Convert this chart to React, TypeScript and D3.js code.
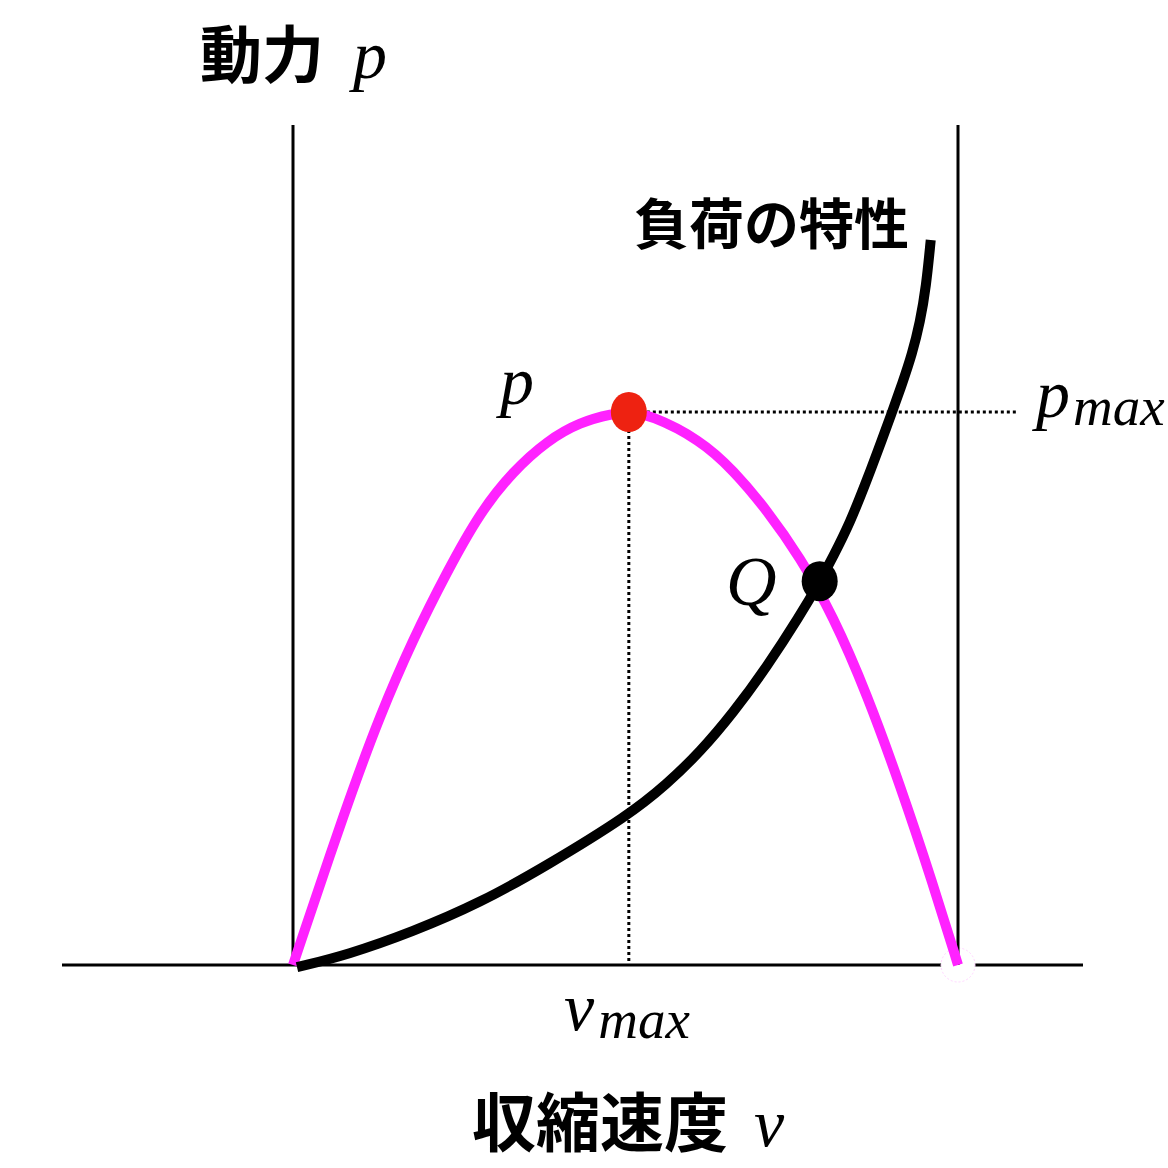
import React from 'react';
import * as d3 from 'd3';

// power curve p(v), normalised: v in [0,1] (1 = right bound), p in [0,1] (1 = p_max)
const powerV = [0, 0.081, 0.131, 0.18, 0.232, 0.281, 0.331, 0.382, 0.432, 0.481, 0.505, 0.537, 0.612, 0.662, 0.713, 0.762, 0.812, 0.863, 0.913, 0.962, 1.0];
const powerP = [0, 0.29, 0.452, 0.588, 0.712, 0.818, 0.893, 0.948, 0.982, 0.997, 1.0, 0.995, 0.95, 0.895, 0.822, 0.738, 0.632, 0.49, 0.325, 0.148, 0];

// load characteristic
const loadV = [0.006, 0.081, 0.18, 0.281, 0.382, 0.505, 0.562, 0.612, 0.662, 0.713, 0.762, 0.792, 0.812, 0.838, 0.86, 0.88, 0.901, 0.916, 0.931, 0.943, 0.952, 0.959];
const loadP = [-0.004, 0.018, 0.06, 0.112, 0.18, 0.271, 0.327, 0.385, 0.456, 0.54, 0.631, 0.693, 0.738, 0.801, 0.868, 0.931, 1.0, 1.051, 1.105, 1.163, 1.226, 1.311];

const vPeak = 0.505;
const qPoint = { v: 0.792, p: 0.694 };

const W = 1168;
const H = 1168;

const mathFont = '"Liberation Serif", "DejaVu Serif", serif';
const jpFont = '"Noto Sans CJK JP", "Noto Sans", sans-serif';

const App: React.FC = () => {
    const x = d3.scaleLinear().domain([0, 1]).range([293, 958]);
    const y = d3.scaleLinear().domain([0, 1]).range([965, 412]);

    const powerData = powerV.map((v, i) => [v, powerP[i]] as [number, number]);
    const loadData = loadV.map((v, i) => [v, loadP[i]] as [number, number]);

    const line = d3.line<[number, number]>()
        .x(d => x(d[0]))
        .y(d => y(d[1]))
        .curve(d3.curveBasis);

    return (
        <svg width={W} height={H} style={{ position: 'absolute', left: 0, top: 0, background: '#fff' }}>
            {/* horizontal axis, with the hollow end marker over it */}
            <line x1={62} x2={1083} y1={y(0)} y2={y(0)} stroke="#000" strokeWidth={3} />
            <circle cx={x(1)} cy={y(0)} r={17} fill="#fff" stroke="#ffd6ff" strokeWidth={1} strokeDasharray="2,2" />

            {/* vertical bounds */}
            <line x1={x(0)} x2={x(0)} y1={125} y2={y(0)} stroke="#000" strokeWidth={3} />
            <line x1={x(1)} x2={x(1)} y1={125} y2={y(0)} stroke="#000" strokeWidth={3} />

            {/* dotted guides */}
            <line x1={x(vPeak)} x2={1017} y1={y(1)} y2={y(1)} stroke="#000" strokeWidth={3} strokeDasharray="3,3" />
            <line x1={x(vPeak)} x2={x(vPeak)} y1={y(1)} y2={y(0) - 3} stroke="#000" strokeWidth={3} strokeDasharray="3,3" />

            {/* curves */}
            <path d={line(powerData) || ''} fill="none" stroke="#ff22ff" strokeWidth={10} />
            <path d={line(loadData) || ''} fill="none" stroke="#000" strokeWidth={10} />

            {/* points */}
            <ellipse cx={x(vPeak)} cy={y(1)} rx={18} ry={20} fill="#ee2211" />
            <ellipse cx={x(qPoint.v)} cy={y(qPoint.p)} rx={18} ry={20} fill="#000" />

            {/* labels */}
            <text x={200} y={78} fontFamily={jpFont} fontWeight={700} fontSize={62} fill="#000">
                動力<tspan fontFamily={mathFont} fontStyle="italic" fontWeight={400} fontSize={68} dx={29}>p</tspan>
            </text>
            <text x={634} y={244} fontFamily={jpFont} fontWeight={700} fontSize={55} fill="#000">負荷の特性</text>
            <text x={500} y={404} fontFamily={mathFont} fontStyle="italic" fontSize={68} fill="#000">p</text>
            <text x={726} y={605} fontFamily={mathFont} fontStyle="italic" fontSize={70} fill="#000">Q</text>
            <text x={1036} y={417} fontFamily={mathFont} fontStyle="italic" fontSize={68} fill="#000">
                p<tspan fontSize={55} dy={8} dx={3}>max</tspan>
            </text>
            <text x={564} y={1030} fontFamily={mathFont} fontStyle="italic" fontSize={68} fill="#000">
                v<tspan fontSize={55} dy={8} dx={4}>max</tspan>
            </text>
            <text x={472} y={1146} fontFamily={jpFont} fontWeight={700} fontSize={64} fill="#000">
                収縮速度<tspan fontFamily={mathFont} fontStyle="italic" fontWeight={400} fontSize={68} dx={26}>v</tspan>
            </text>
        </svg>
    );
};

export default App;
